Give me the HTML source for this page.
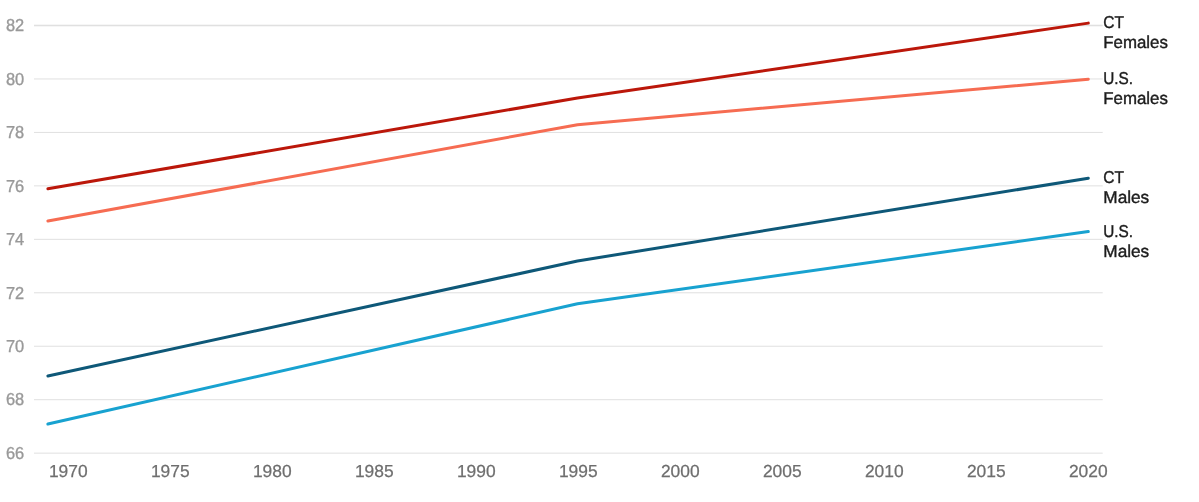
<!DOCTYPE html>
<html><head><meta charset="utf-8"><style>
html,body{margin:0;padding:0;background:#fff;width:1199px;height:502px;overflow:hidden}
svg{display:block;will-change:transform;font-family:"Liberation Sans",sans-serif;text-rendering:geometricPrecision}
.yl{fill:#999;font-size:17.3px;stroke:#999;stroke-width:0.35px}
.xl{fill:#6e6e6e;font-size:17.4px;stroke:#6e6e6e;stroke-width:0.25px}
.ll{fill:#1c1c1c;font-size:17.2px;stroke:#1c1c1c;stroke-width:0.4px}
</style></head><body>
<svg width="1199" height="502" viewBox="0 0 1199 502">
<rect x="34" y="452.65" width="1068.7" height="1.0" fill="#e0e0e0"/>
<rect x="34" y="399.19" width="1068.7" height="1.0" fill="#e0e0e0"/>
<rect x="34" y="345.74" width="1068.7" height="1.0" fill="#e0e0e0"/>
<rect x="34" y="292.28" width="1068.7" height="1.0" fill="#e0e0e0"/>
<rect x="34" y="238.82" width="1068.7" height="1.0" fill="#e0e0e0"/>
<rect x="34" y="185.37" width="1068.7" height="1.0" fill="#e0e0e0"/>
<rect x="34" y="131.91" width="1068.7" height="1.0" fill="#e0e0e0"/>
<rect x="34" y="78.46" width="1068.7" height="1.0" fill="#e0e0e0"/>
<rect x="34" y="24.70" width="1068.7" height="1.6" fill="#e0e0e0"/>
<text class="yl" transform="translate(24.2,458.90) scale(0.95,1)" text-anchor="end">66</text>
<text class="yl" transform="translate(24.2,405.44) scale(0.95,1)" text-anchor="end">68</text>
<text class="yl" transform="translate(24.2,351.99) scale(0.95,1)" text-anchor="end">70</text>
<text class="yl" transform="translate(24.2,298.53) scale(0.95,1)" text-anchor="end">72</text>
<text class="yl" transform="translate(24.2,245.07) scale(0.95,1)" text-anchor="end">74</text>
<text class="yl" transform="translate(24.2,191.62) scale(0.95,1)" text-anchor="end">76</text>
<text class="yl" transform="translate(24.2,138.16) scale(0.95,1)" text-anchor="end">78</text>
<text class="yl" transform="translate(24.2,84.71) scale(0.95,1)" text-anchor="end">80</text>
<text class="yl" transform="translate(24.2,31.25) scale(0.95,1)" text-anchor="end">82</text>
<text class="xl" x="68.3" y="477.2" text-anchor="middle">1970</text>
<text class="xl" x="170.3" y="477.2" text-anchor="middle">1975</text>
<text class="xl" x="272.3" y="477.2" text-anchor="middle">1980</text>
<text class="xl" x="374.3" y="477.2" text-anchor="middle">1985</text>
<text class="xl" x="476.3" y="477.2" text-anchor="middle">1990</text>
<text class="xl" x="578.3" y="477.2" text-anchor="middle">1995</text>
<text class="xl" x="680.3" y="477.2" text-anchor="middle">2000</text>
<text class="xl" x="782.3" y="477.2" text-anchor="middle">2005</text>
<text class="xl" x="884.3" y="477.2" text-anchor="middle">2010</text>
<text class="xl" x="986.3" y="477.2" text-anchor="middle">2015</text>
<text class="xl" x="1088.3" y="477.2" text-anchor="middle">2020</text>
<path d="M47.90,188.84 L577.50,97.97 L1088.30,23.13" fill="none" stroke="#bb170a" stroke-width="3" stroke-linecap="round" stroke-linejoin="round"/>
<path d="M47.90,220.91 L577.50,124.69 L1088.30,79.26" fill="none" stroke="#f66c52" stroke-width="3" stroke-linecap="round" stroke-linejoin="round"/>
<path d="M47.90,375.94 L577.50,261.01 L1088.30,178.15" fill="none" stroke="#0e5878" stroke-width="3" stroke-linecap="round" stroke-linejoin="round"/>
<path d="M47.90,424.05 L577.50,303.77 L1088.30,231.61" fill="none" stroke="#18a2d0" stroke-width="3" stroke-linecap="round" stroke-linejoin="round"/>
<text class="ll" x="1103.3" y="28" textLength="20.7" lengthAdjust="spacingAndGlyphs">CT</text><text class="ll" x="1103.3" y="48" textLength="64.6" lengthAdjust="spacingAndGlyphs">Females</text>
<text class="ll" x="1103.3" y="84.1" textLength="29.8" lengthAdjust="spacingAndGlyphs">U.S.</text><text class="ll" x="1103.3" y="104.1" textLength="64.6" lengthAdjust="spacingAndGlyphs">Females</text>
<text class="ll" x="1103.3" y="183.4" textLength="20.7" lengthAdjust="spacingAndGlyphs">CT</text><text class="ll" x="1103.3" y="203.4" textLength="45.9" lengthAdjust="spacingAndGlyphs">Males</text>
<text class="ll" x="1103.3" y="237.0" textLength="29.8" lengthAdjust="spacingAndGlyphs">U.S.</text><text class="ll" x="1103.3" y="257.0" textLength="45.9" lengthAdjust="spacingAndGlyphs">Males</text>
</svg>
</body></html>
